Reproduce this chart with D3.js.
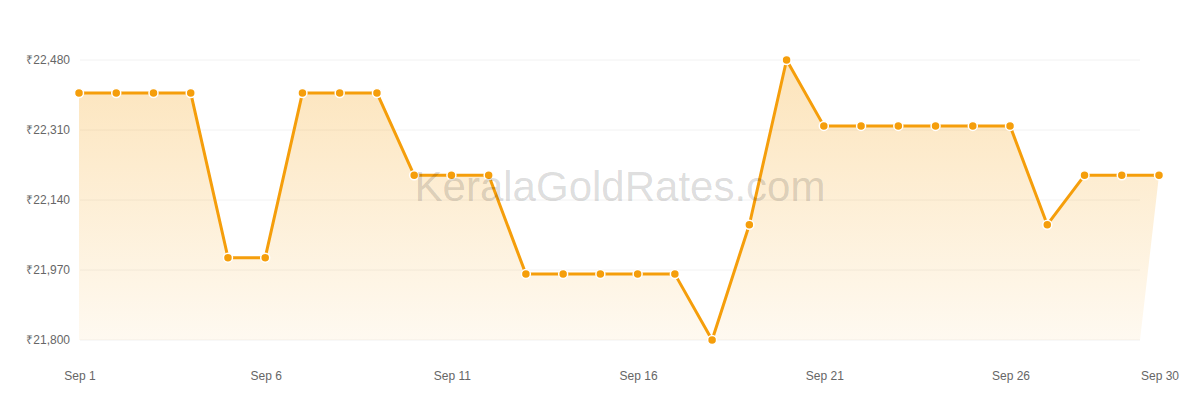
<!DOCTYPE html>
<html>
<head>
<meta charset="utf-8">
<script src="https://cdn.jsdelivr.net/npm/d3@7"></script>
<style>
  html, body { margin: 0; padding: 0; background: #fff; }
  svg { display: block; font-family: "Liberation Sans", Arial, sans-serif; }
</style>
</head>
<body>
<main></main>
<script>
// daily rates for September
const days = d3.range(1, 31);
const rates = [
  22400, 22400, 22400, 22400, 22000, 22000, 22400, 22400, 22400, 22200,
  22200, 22200, 21960, 21960, 21960, 21960, 21960, 21800, 22080, 22480,
  22320, 22320, 22320, 22320, 22320, 22320, 22080, 22200, 22200, 22200
];
const yTicks = [21800, 21970, 22140, 22310, 22480];
const xTickDays = [1, 6, 11, 16, 21, 26, 30];

const width = 1200;
const height = 400;
const plotLeft = 79, plotRight = 1159, gridRight = 1140;
const plotTop = 60, plotBottom = 340;

const svg = d3.select("main")
  .append("svg")
  .attr("width", width)
  .attr("height", height);

const x = d3.scaleLinear().domain([1, 30]).range([plotLeft, plotRight]);
const y = d3.scaleLinear().domain([21800, 22480]).range([plotBottom, plotTop]);

// gradient for the area under the line
const grad = svg.append("defs").append("linearGradient")
  .attr("id", "fillGrad")
  .attr("x1", 0).attr("y1", 0).attr("x2", 0).attr("y2", 1);
grad.append("stop").attr("offset", "0%").attr("stop-color", "#f59e0b").attr("stop-opacity", 0.28);
grad.append("stop").attr("offset", "100%").attr("stop-color", "#f59e0b").attr("stop-opacity", 0.06);

// grid lines
svg.append("g")
  .selectAll("line")
  .data(yTicks)
  .join("line")
    .attr("x1", plotLeft + 1)
    .attr("x2", gridRight)
    .attr("y1", d => y(d))
    .attr("y2", d => y(d))
    .attr("stroke", "#f2f2f2")
    .attr("stroke-width", 1);

// y labels
svg.append("g")
  .selectAll("text")
  .data(yTicks)
  .join("text")
    .attr("x", 70)
    .attr("y", d => y(d) + 4)
    .attr("text-anchor", "end")
    .attr("fill", "#666")
    .attr("font-size", 12)
    .text(d => "₹" + d3.format(",")(d));

// x labels
svg.append("g")
  .selectAll("text")
  .data(xTickDays)
  .join("text")
    .attr("x", d => x(d) + 1)
    .attr("y", 380)
    .attr("text-anchor", "middle")
    .attr("fill", "#666")
    .attr("font-size", 12)
    .text(d => "Sep " + d);

const pts = days.map((d, i) => [x(d), y(rates[i])]);

// area: bottom closes at the grid end, like the original
const areaPts = [[plotLeft, plotBottom], ...pts, [gridRight, plotBottom]];
svg.append("path")
  .attr("d", d3.line()(areaPts) + "Z")
  .attr("fill", "url(#fillGrad)");

svg.append("path")
  .attr("d", d3.line()(pts))
  .attr("fill", "none")
  .attr("stroke", "#f59e0b")
  .attr("stroke-width", 3)
  .attr("stroke-linejoin", "round");

svg.append("g")
  .selectAll("circle")
  .data(pts)
  .join("circle")
    .attr("cx", d => d[0])
    .attr("cy", d => d[1])
    .attr("r", 4.5)
    .attr("fill", "#f59e0b")
    .attr("stroke", "#fff")
    .attr("stroke-width", 1.5);

// watermark
svg.append("text")
  .attr("x", 620)
  .attr("y", 201)
  .attr("text-anchor", "middle")
  .attr("font-size", 42)
  .attr("fill", "#000")
  .attr("fill-opacity", 0.15)
  .text("KeralaGoldRates.com");
</script>
</body>
</html>
